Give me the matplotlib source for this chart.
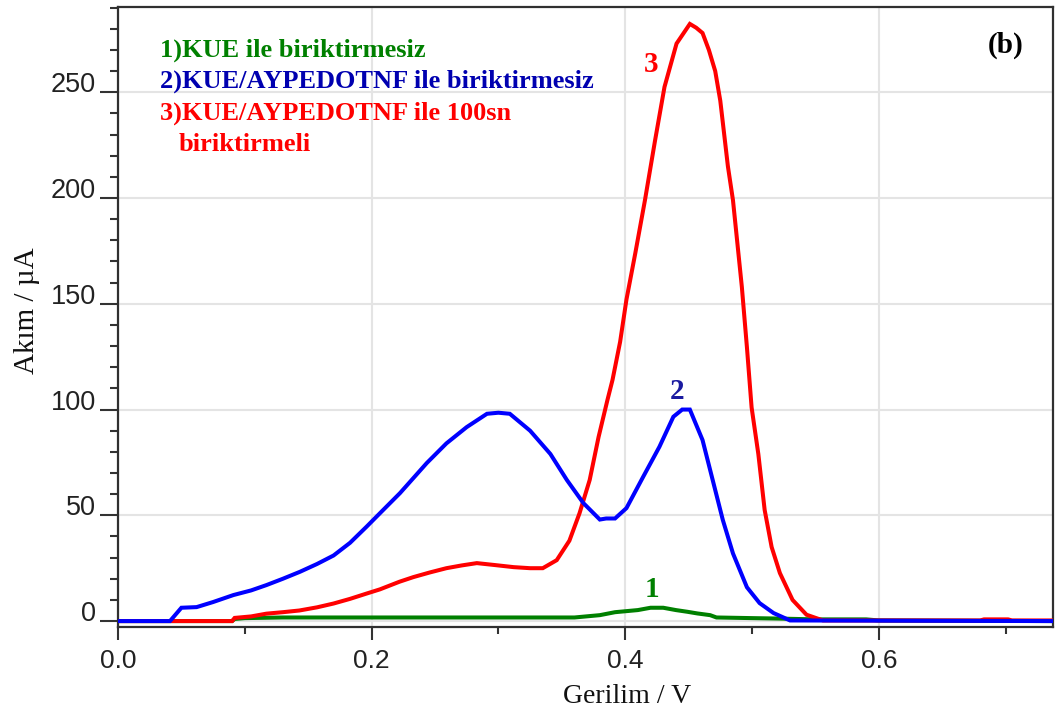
import matplotlib
matplotlib.use("Agg")
import matplotlib.pyplot as plt
from matplotlib.ticker import MultipleLocator

# Differential pulse voltammograms (current vs potential)
x_kue = [0.0, 0.09, 0.092, 0.10, 0.13, 0.36, 0.38, 0.392, 0.41, 0.42, 0.43, 0.44,
         0.449, 0.457, 0.467, 0.472, 0.50, 0.52, 0.55, 0.59, 0.60, 0.737]
y_kue = [0.0, 0.0, 1.0, 1.4, 1.7, 1.7, 2.8, 4.2, 5.2, 6.3, 6.3, 5.2,
         4.4, 3.6, 2.8, 1.7, 1.4, 1.2, 0.8, 0.8, 0.3, 0.0]

x_pedot = [0.0, 0.041, 0.050, 0.062, 0.075, 0.091, 0.105, 0.117, 0.130, 0.1435,
           0.157, 0.170, 0.183, 0.196, 0.2066, 0.2224, 0.2435, 0.259, 0.275, 0.291,
           0.300, 0.309, 0.325, 0.341, 0.354, 0.367, 0.380, 0.385, 0.392, 0.401,
           0.414, 0.427, 0.438, 0.445, 0.451, 0.461, 0.469, 0.477, 0.485, 0.496,
           0.506, 0.517, 0.530, 0.737]
y_pedot = [0.0, 0.0, 6.3, 6.6, 9.0, 12.3, 14.5, 17.0, 20.0, 23.3,
           27.0, 31.0, 37.0, 44.6, 51.0, 60.5, 74.7, 84.0, 91.7, 98.0,
           98.5, 98.0, 90.0, 79.0, 66.7, 55.8, 48.0, 48.5, 48.5, 53.4,
           68.0, 82.4, 96.6, 100.0, 100.0, 85.6, 66.7, 47.8, 32.0, 16.0,
           8.5, 3.8, 0.3, 0.0]

x_pedot_dep = [0.0, 0.09, 0.092, 0.105, 0.117, 0.130, 0.143, 0.157, 0.170, 0.183,
               0.196, 0.2066, 0.222, 0.233, 0.246, 0.259, 0.271, 0.283, 0.297, 0.312,
               0.325, 0.335, 0.346, 0.356, 0.364, 0.372, 0.379, 0.386, 0.390, 0.396,
               0.401, 0.408, 0.4156, 0.4235, 0.431, 0.4405, 0.451, 0.456, 0.461, 0.466,
               0.471, 0.475, 0.481, 0.485, 0.492, 0.496, 0.4997, 0.505, 0.510, 0.5155,
               0.522, 0.532, 0.543, 0.556, 0.68, 0.683, 0.702, 0.705, 0.737]
y_pedot_dep = [0.0, 0.0, 1.5, 2.2, 3.5, 4.2, 5.0, 6.5, 8.3, 10.5,
               13.0, 15.0, 18.6, 20.8, 23.0, 25.0, 26.3, 27.4, 26.5, 25.5,
               25.0, 25.0, 28.8, 38.0, 51.0, 66.7, 87.0, 104.5, 114.0, 132.0,
               152.0, 174.0, 199.0, 227.0, 252.5, 273.0, 282.3, 280.5, 278.0, 270.0,
               260.0, 246.0, 215.0, 199.0, 158.0, 129.5, 101.0, 79.0, 52.5, 35.0,
               22.7, 10.0, 3.0, 0.3, 0.3, 0.8, 0.8, 0.3, 0.3]

legend_lines = ["1)KUE ile biriktirmesiz",
                "2)KUE/AYPEDOTNF ile biriktirmesiz",
                "3)KUE/AYPEDOTNF ile 100sn",
                "biriktirmeli"]

GREEN = "#008000"
BLUE = "#0000ff"
RED = "#ff0000"

plt.rcParams["font.family"] = ["Liberation Sans", "DejaVu Sans"]

fig = plt.figure(figsize=(10.61, 7.10), dpi=100)
ax = fig.add_axes([118 / 1061, 1 - 627 / 710, 935 / 1061, 620 / 710])

lw = 2.9
ax.plot(x_kue, y_kue, color=GREEN, lw=lw, solid_joinstyle="miter", zorder=3)
ax.plot(x_pedot_dep, y_pedot_dep, color=RED, lw=lw, solid_joinstyle="miter", zorder=4)
ax.plot(x_pedot, y_pedot, color=BLUE, lw=lw, solid_joinstyle="miter", zorder=5)

ax.set_xlim(0.0, 0.7374)
ax.set_ylim(-2.8, 290.3)

ax.xaxis.set_major_locator(MultipleLocator(0.2))
ax.xaxis.set_minor_locator(MultipleLocator(0.1))
ax.yaxis.set_major_locator(MultipleLocator(50))
ax.yaxis.set_minor_locator(MultipleLocator(10))
ax.xaxis.set_major_formatter(plt.FuncFormatter(lambda v, p: f"{v:.1f}"))
ax.yaxis.set_major_formatter(plt.FuncFormatter(lambda v, p: f"{v:.0f}"))

ax.grid(True, which="major", color="#e4e4e4", lw=1.5, zorder=0)
ax.set_axisbelow(True)

tick_col = "#333333"
ax.tick_params(axis="x", which="major", direction="out", length=9.5, width=1.5,
               color=tick_col, labelsize=19, labelcolor="#222222", pad=6)
ax.tick_params(axis="x", which="minor", direction="out", length=5, width=1.5,
               color=tick_col)
ax.tick_params(axis="y", which="major", direction="out", length=13, width=1.5,
               color=tick_col, labelsize=19.5, labelcolor="#222222", pad=3)
ax.tick_params(axis="y", which="minor", direction="out", length=6, width=1.5,
               color=tick_col)
for lab in ax.get_yticklabels():
    lab.set_verticalalignment("baseline")

for side in ["left", "right", "top", "bottom"]:
    ax.spines[side].set_color("#303030")
    ax.spines[side].set_linewidth(1.6)

ax.set_xlabel("Gerilim / V", family="Liberation Serif", fontsize=20, color="#111111")
ax.set_ylabel("Akım / µA", family="Liberation Serif", fontsize=21, color="#111111")
ax.xaxis.set_label_coords(0.544, -0.092)
ax.yaxis.set_label_coords(-0.083, 0.51)

# Series descriptions
serif_bold = dict(family="Liberation Serif", fontweight="bold", fontsize=19,
                  transform=ax.transAxes, va="center", ha="left")
ax.text((160 - 118) / 935, (627 - 50) / 620, legend_lines[0], color=GREEN, **serif_bold)
ax.text((160 - 118) / 935, (627 - 81) / 620, legend_lines[1], color="#0000b0", **serif_bold)
ax.text((160 - 118) / 935, (627 - 113) / 620, legend_lines[2], color=RED, **serif_bold)
ax.text((179 - 118) / 935, (627 - 144) / 620, legend_lines[3], color=RED, **serif_bold)

ax.text((1006 - 118) / 935, (627 - 45) / 620, "(b)", family="Liberation Serif",
        fontweight="bold", fontsize=21, color="black", transform=ax.transAxes,
        ha="center", va="center")

# Curve numbers
num = dict(family="Liberation Serif", fontweight="bold", fontsize=21,
           ha="center", va="center", zorder=6)
ax.text(0.421, 14.7, "1", color=GREEN, **num)
ax.text(0.441, 108.5, "2", color="#1a1aa0", **num)
ax.text(0.4207, 263.0, "3", color=RED, **num)

fig.savefig("out.png", dpi=100)
